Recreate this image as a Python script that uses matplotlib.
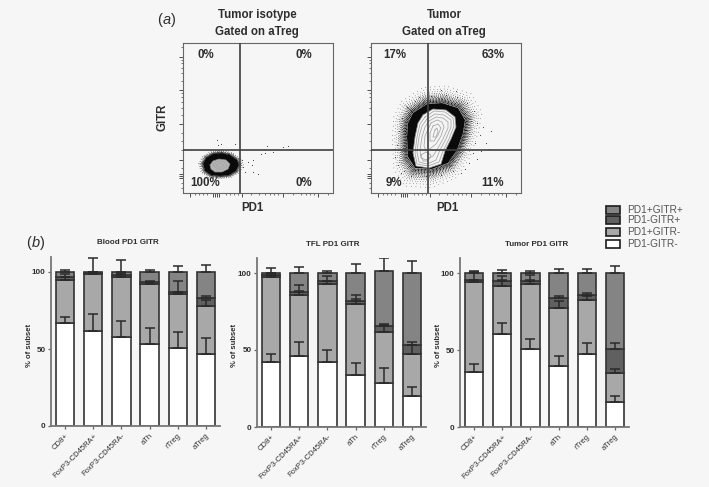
"""Flow panels (a) and stacked PD1/GITR bars (b)."""
import numpy as np
import matplotlib
matplotlib.use("Agg")
import matplotlib.pyplot as plt  # noqa: E402
from matplotlib.patches import Rectangle  # noqa: E402

W, H = 709, 487
BG = "#f6f6f6"
TXT = "#2e2e2e"
plt.rcParams["font.family"] = ["Liberation Sans", "DejaVu Sans"]

CATS = ["CD8+", "FoxP3-CD45RA+", "FoxP3-CD45RA-", "aTh", "rTreg", "aTreg"]

# segment tops are cumulative
BLOOD_TOPS = [[67, 62, 58, 53.5, 50.5, 47],
              [94.5, 99, 97, 92, 86, 78],
              [97, 99.5, 98, 93.5, 87, 83],
              [100, 100, 100, 100, 100, 100]]
BLOOD_CAPS = [[71, 73, 68.5, 63.5, 61, 57],
              [97, 100, 99, 93.5, 87, 82],
              [98.5, 100.3, 99.5, 94, 94, 84.5],
              [101.5, 109, 107.5, 101, 104, 104.5]]
TFL_TOPS = [[42, 46, 42.5, 34, 28.5, 20],
            [97.5, 85.5, 93, 80, 62, 47.5],
            [99, 87.5, 94.5, 82, 65.5, 53.5],
            [100, 100, 100, 100, 101, 100]]
TFL_CAPS = [[47.5, 55, 50, 41.5, 38, 26],
            [98.5, 88.5, 95, 83, 66, 53],
            [100, 92, 98, 85.5, 67, 55],
            [103, 104, 101.5, 106, 109.5, 108]]
TUMOR_TOPS = [[35.5, 60.5, 51, 40, 47.5, 16],
              [94.5, 92, 93, 77.5, 82.5, 35],
              [96, 95, 95, 84, 86, 51],
              [100, 100, 100, 100, 100, 100]]
TUMOR_CAPS = [[41, 68, 57.5, 46.5, 55, 20],
              [95.5, 95.5, 95.5, 82, 85.5, 38],
              [101, 98.5, 99, 85.5, 87, 54.5],
              [101.3, 102, 101.3, 103, 103, 105]]

SERIES = ["PD1-GITR-", "PD1+GITR-", "PD1-GITR+", "PD1+GITR+"]
SERIES_COLORS = ["#ffffff", "#a8a8a8", "#606060", "#848484"]

# flow plot outlines, in plot units (0-150 on both axes)
ISO_BLOB = [(20, 29), (23, 35), (30, 39), (38, 40), (47, 38), (54, 33), (56, 28),
            (53, 22), (46, 18), (37, 17), (28, 18), (22, 22)]
ISO_CORE = [(27, 28), (30, 32), (36, 34), (43, 33), (47, 29), (45, 24), (39, 21),
            (32, 21), (28, 24)]
ISO_RINGS = [[(30, 28), (33, 31), (38, 32), (43, 30), (44, 27), (40, 24), (34, 24)],
             [(33, 28), (37, 30), (41, 28), (39, 26), (35, 26)]]
ISO_STRAY = [(34, 53), (38, 49), (35, 48), (52, 49), (84, 47), (82, 40), (78, 39),
             (70, 33), (65, 31), (69, 28), (75, 19), (70, 21), (60, 26), (62, 21),
             (59, 33), (100, 46), (105, 47), (90, 41)]
TUM_BLOB = [(42, 80), (56, 89), (71, 90), (87, 85), (94, 73), (92, 60), (86, 43),
            (77, 30), (61, 24), (44, 25), (37, 36), (36, 56), (37, 70)]
TUM_CORE = [(52, 78), (62, 84), (75, 83), (84, 76), (85, 66), (80, 54), (74, 42),
            (70, 29), (58, 25), (45, 27), (42, 40), (44, 56), (47, 70)]
TUM_RINGS = [[(54, 76), (63, 82), (74, 81), (82, 75), (83, 67), (78, 54), (72, 42),
              (68, 31), (57, 27), (46, 29), (44, 40), (46, 56), (49, 69)],
             [(56, 74), (64, 79), (73, 78), (80, 73), (80, 66), (75, 54), (69, 43),
              (65, 33), (56, 29), (48, 31), (46, 41), (48, 56), (51, 67)],
             [(58, 72), (65, 76), (72, 75), (77, 71), (77, 65), (72, 54), (67, 45),
              (62, 37), (55, 33), (50, 35), (49, 43), (51, 56), (54, 66)],
             [(60, 70), (66, 73), (71, 71), (73, 66), (70, 57), (65, 49), (60, 45),
              (55, 42), (53, 47), (54, 57)],
             [(62, 67), (67, 69), (70, 65), (67, 58), (63, 52), (59, 52), (59, 60)],
             [(64, 63), (66, 65), (67, 61), (65, 56), (62, 56)],
             [(50, 38), (55, 41), (60, 38), (57, 32), (52, 32)]]
TUM_STRAY = [(100, 72), (106, 70), (112, 66), (120, 62), (109, 58), (115, 50), (104, 50),
             (102, 40), (110, 42), (118, 44), (98, 30), (106, 34), (94, 24), (90, 20),
             (30, 20), (27, 28), (24, 36), (26, 48), (28, 62), (31, 75), (36, 86),
             (48, 96), (60, 97), (75, 98), (86, 96), (96, 90), (103, 82), (85, 102),
             (70, 103), (44, 92), (33, 22), (40, 17), (55, 17), (70, 18), (82, 22)]

FLOW_MAJOR_X = [7, 30, 32, 34, 36, 59, 100, 135]
FLOW_MAJOR_Y = [15, 17, 19, 33, 69, 103, 136]
FLOW_MINOR = [12, 16, 20, 24, 43, 47, 51, 55, 68, 76, 82, 87, 91, 95,
              110, 118, 123, 127, 131, 145]
FLOW_MINOR_Y = [5, 10, 25, 43, 52, 60, 78, 85, 91, 96, 100, 112, 120, 125, 130, 133, 146]

# how far the dotted fringe reaches beyond each cloud: (growth, gap, line width)
ISO_FRINGE = [(1.02, 0.4, 0.8), (1.06, 0.6, 0.7), (1.11, 1.0, 0.6), (1.17, 1.8, 0.6),
              (1.24, 3.0, 0.5)]
TUM_FRINGE = [(1.03, 0.3, 1.0), (1.07, 0.4, 1.0), (1.11, 0.5, 0.9), (1.15, 0.7, 0.8),
              (1.19, 0.9, 0.7), (1.23, 1.2, 0.7), (1.27, 1.6, 0.6), (1.32, 2.2, 0.6),
              (1.38, 3.0, 0.5), (1.45, 4.2, 0.5), (1.54, 6.0, 0.5)]


def px_axes(fig, left, top, right, bottom):
    return fig.add_axes([left / W, 1 - bottom / H, (right - left) / W, (bottom - top) / H])


def px_text(fig, x, y, s, **kw):
    kw.setdefault("ha", "center")
    kw.setdefault("va", "center")
    kw.setdefault("color", TXT)
    fig.text(x / W, 1 - y / H, s, **kw)


def closed(points):
    arr = np.array(points + points[:1], dtype=float)
    return arr[:, 0], arr[:, 1]


def stipple(ax, outline, fringe):
    # scattered edge round the solid cloud: dotted outlines growing outwards
    x, y = closed(outline)
    cx, cy = x[:-1].mean(), y[:-1].mean()
    for grow, gap, lw in fringe:
        ax.plot(cx + (x - cx) * grow, cy + (y - cy) * grow, color="#111111", lw=lw,
                linestyle=(0, (0.7, gap)), zorder=1.5)


def flow_panel(fig, left, blob, core, core_color, rings, stray, fringe):
    ax = px_axes(fig, left, 43, left + 150, 193)
    ax.set_xlim(0, 150)
    ax.set_ylim(0, 150)
    ax.set_facecolor(BG)
    stipple(ax, blob, fringe)
    ax.fill(*closed(blob), color="#0a0a0a", lw=0, zorder=2)
    ax.fill(*closed(core), color=core_color, lw=0, zorder=3)
    ax.plot(*closed(core), color="#8a8a8a", lw=0.5, zorder=4)
    for ring in rings:
        ax.plot(*closed(ring), color="#a4a4a4", lw=0.55, zorder=4)
    ax.scatter(*zip(*stray), s=0.6, color="#333333", lw=0, zorder=2)
    ax.axvline(57, color="#3f3f3f", lw=1.2, zorder=5)
    ax.axhline(43, color="#3f3f3f", lw=1.2, zorder=5)
    ax.set_xticks(FLOW_MAJOR_X)
    ax.set_yticks(FLOW_MAJOR_Y)
    ax.set_xticks(FLOW_MINOR, minor=True)
    ax.set_yticks(FLOW_MINOR_Y, minor=True)
    ax.tick_params(which="major", length=2.6, width=0.6, color="#333333",
                   labelbottom=False, labelleft=False)
    ax.tick_params(which="minor", length=1.4, width=0.5, color="#444444")
    for sp in ax.spines.values():
        sp.set_color("#666666")
        sp.set_linewidth(0.8)
    return ax


def bar_panel(fig, left, top, bottom, tops, caps):
    ax = px_axes(fig, left, top, left + 169, bottom)
    ax.set_xlim(-0.5, 5.5)
    ax.set_ylim(0, 110)
    ax.set_facecolor(BG)
    xs = np.arange(len(CATS))
    base = np.zeros(len(CATS))
    for seg_top, color in zip(tops, SERIES_COLORS):
        seg_top = np.array(seg_top, dtype=float)
        ax.bar(xs, seg_top - base, bottom=base, width=0.65, color=color,
               edgecolor="#333333", linewidth=1.2, zorder=2)
        base = seg_top
    for seg_top, cap in zip(tops, caps):
        seg_top = np.array(seg_top, dtype=float)
        err = np.array(cap, dtype=float) - seg_top
        ax.errorbar(xs, seg_top, yerr=[np.zeros_like(err), err], fmt="none",
                    ecolor="#2a2a2a", elinewidth=1.1, capsize=3.6, capthick=1.1, zorder=3)
    ax.set_xticks(xs)
    ax.set_xticklabels(CATS, rotation=45, ha="right", rotation_mode="anchor",
                       fontsize=5.5, color=TXT)
    ax.set_yticks([0, 50, 100])
    ax.tick_params(axis="y", labelsize=5.8, length=2.5, width=0.9, color="#666666",
                   labelcolor=TXT, pad=1.5)
    ax.tick_params(axis="x", length=2.5, width=0.9, color="#666666", pad=2)
    for label in ax.get_yticklabels():
        label.set_fontweight("bold")
    for side in ("top", "right"):
        ax.spines[side].set_visible(False)
    for side in ("left", "bottom"):
        ax.spines[side].set_color("#777777")
        ax.spines[side].set_linewidth(1.3)
    return ax


def main():
    fig = plt.figure(figsize=(W / 100, H / 100), dpi=100, facecolor=BG)

    flow_panel(fig, 183, ISO_BLOB, ISO_CORE, "#b4b4b4", ISO_RINGS, ISO_STRAY, ISO_FRINGE)
    flow_panel(fig, 371, TUM_BLOB, TUM_CORE, "#f4f4f4", TUM_RINGS, TUM_STRAY, TUM_FRINGE)

    bold = dict(fontweight="bold", fontsize=8.3)
    px_text(fig, 257, 15, "Tumor isotype", **bold)
    px_text(fig, 257, 32, "Gated on aTreg", **bold)
    px_text(fig, 444, 15, "Tumor", **bold)
    px_text(fig, 444, 32, "Gated on aTreg", **bold)
    # italic letter inside upright brackets
    for x, y, letter in [(166.5, 20, "a"), (35.5, 243, "b")]:
        px_text(fig, x - 7, y, "(", fontsize=10.5)
        px_text(fig, x, y, letter, fontsize=10.5, style="italic")
        px_text(fig, x + 7, y, ")", fontsize=10.5)
    for x, y, s in [(206, 55, "0%"), (304, 55, "0%"), (205, 183, "100%"), (304, 183, "0%"),
                    (395, 55, "17%"), (493, 55, "63%"), (394, 183, "9%"), (493, 183, "11%")]:
        px_text(fig, x, y, s, **bold)
    px_text(fig, 163, 117, "GITR", rotation=90, **bold)
    px_text(fig, 252, 208, "PD1", **bold)
    px_text(fig, 447, 208, "PD1", **bold)

    bar_panel(fig, 51, 256.6, 426, BLOOD_TOPS, BLOOD_CAPS)
    bar_panel(fig, 257, 257.6, 427, TFL_TOPS, TFL_CAPS)
    bar_panel(fig, 460, 258, 427, TUMOR_TOPS, TUMOR_CAPS)

    small = dict(fontweight="bold", fontsize=5.8)
    px_text(fig, 128, 243, "Blood PD1 GITR", **small)
    px_text(fig, 333, 245, "TFL PD1 GITR", **small)
    px_text(fig, 537, 244, "Tumor PD1 GITR", **small)
    for x in (30, 235, 438):
        px_text(fig, x, 345, "% of subset", rotation=90, fontsize=5.5, fontweight="bold")

    # legend rows are unevenly spaced in the original
    for name, color, y in zip(SERIES, SERIES_COLORS, [244, 232, 220, 210]):
        fig.add_artist(Rectangle((606 / W, 1 - (y + 4) / H), 14 / W, 8 / H, facecolor=color,
                                 edgecolor="#1c1c1c", linewidth=1.2,
                                 transform=fig.transFigure))
        px_text(fig, 627, y, name, ha="left", fontsize=7.3, color="#555555")

    fig.savefig("out.png", dpi=100, facecolor=BG)


if __name__ == "__main__":
    main()
